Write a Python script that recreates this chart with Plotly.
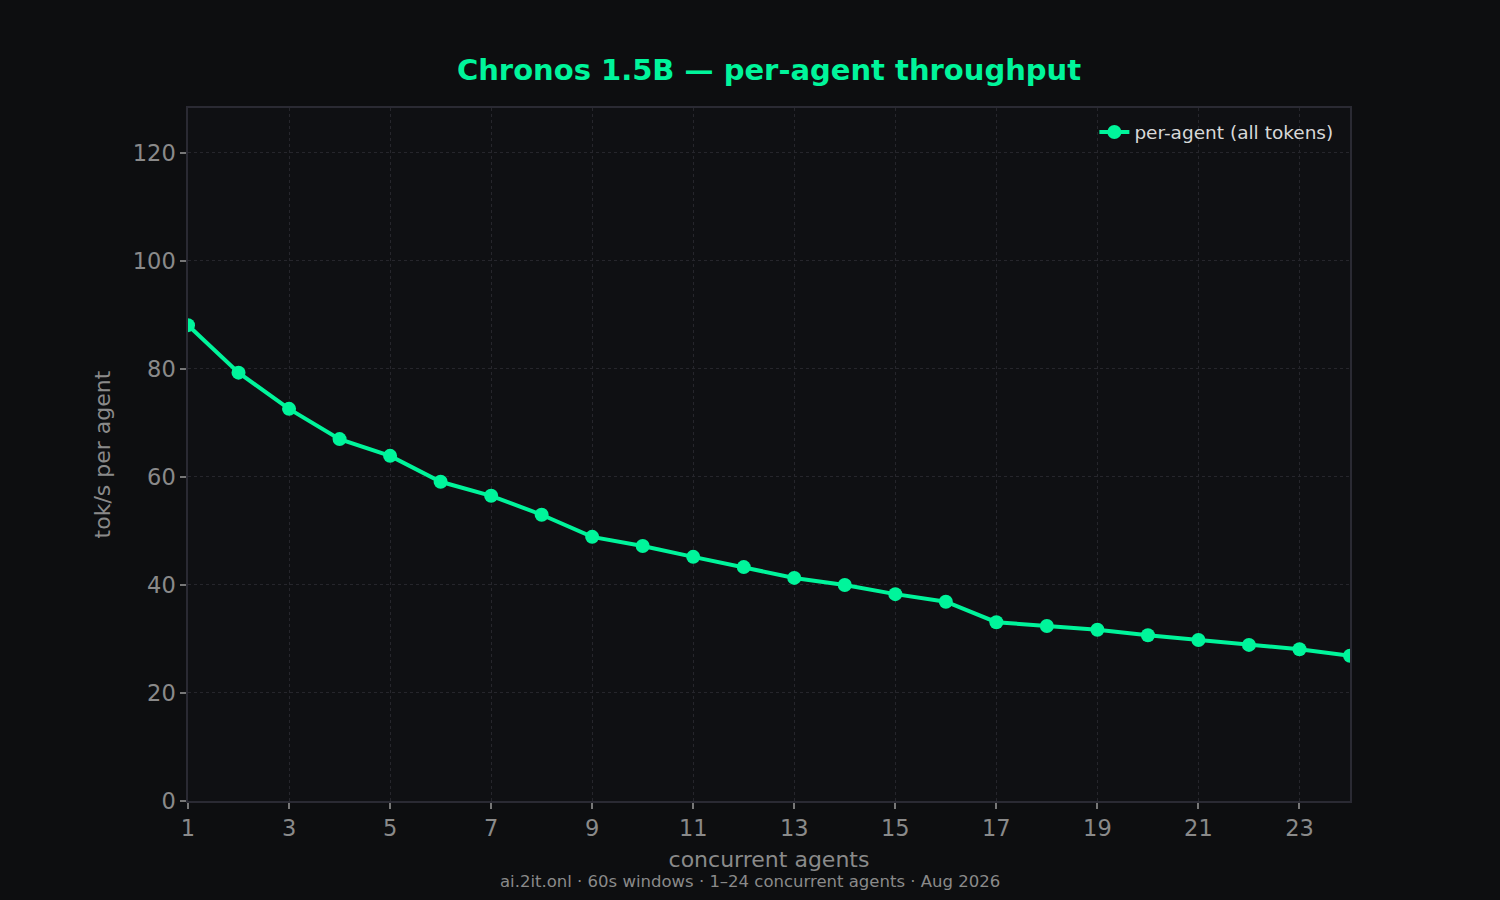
import plotly.graph_objects as go

agents = list(range(1, 25))
per_agent = [88.1, 79.3, 72.6, 67.0, 63.9, 59.1, 56.5, 53.0, 48.9, 47.2, 45.2, 43.3,
             41.3, 40.0, 38.3, 36.9, 33.1, 32.4, 31.7, 30.7, 29.8, 28.9, 28.1, 26.9]
x_ticks = list(range(1, 25, 2))
y_ticks = [0, 20, 40, 60, 80, 100, 120]

GREEN = "#00f59b"
GRID = "#26262c"
FRAME = "#2a2a33"
FONT = "DejaVu Sans"

fig = go.Figure()
fig.add_trace(go.Scatter(
    x=agents, y=per_agent, mode="lines+markers", name="per-agent (all tokens)",
    line=dict(color=GREEN, width=4),
    marker=dict(color=GREEN, size=14),
))

axis_common = dict(
    showline=True, linecolor=FRAME, linewidth=1.5, mirror=True,
    showgrid=True, gridcolor=GRID, griddash="dot", gridwidth=1,
    ticks="outside", ticklen=6, tickwidth=1.5, tickcolor="#777777",
    tickfont=dict(family=FONT, size=22.5, color="#8a8a8a"),
    zeroline=False,
)

fig.update_layout(
    width=1500, height=900,
    paper_bgcolor="#0d0e10", plot_bgcolor="#0f1013",
    margin=dict(l=188, r=150, t=108, b=99),
    title=dict(text="<b>Chronos 1.5B — per-agent throughput</b>",
               font=dict(family=FONT, size=29, color=GREEN),
               x=0.5, xref="paper", xanchor="center", y=0.922, yanchor="middle"),
    xaxis=dict(range=[1, 24], tickvals=x_ticks,
               title=dict(text="concurrent agents", standoff=12,
                          font=dict(family=FONT, size=22, color="#8a8a8a")),
               **axis_common),
    yaxis=dict(range=[0, 128.3], tickvals=y_ticks,
               title=dict(text="tok/s per agent", standoff=16,
                          font=dict(family=FONT, size=22, color="#8a8a8a")),
               **axis_common),
    legend=dict(x=0.99, y=0.992, xanchor="right", yanchor="top",
                bgcolor="rgba(0,0,0,0)",
                font=dict(family=FONT, size=18.5, color="#d8d8d8")),
    showlegend=True,
)

fig.add_annotation(
    text="ai.2it.onl · 60s windows · 1–24 concurrent agents · Aug 2026",
    xref="paper", yref="paper", x=(750 - 188) / 1162, y=-(881 - 801) / 693,
    xanchor="center", yanchor="middle", showarrow=False,
    font=dict(family=FONT, size=16.5, color="#8a8a8a"),
)

fig.write_html("out.html", config={"displayModeBar": False},
               post_script="document.body.style.margin='0';")
